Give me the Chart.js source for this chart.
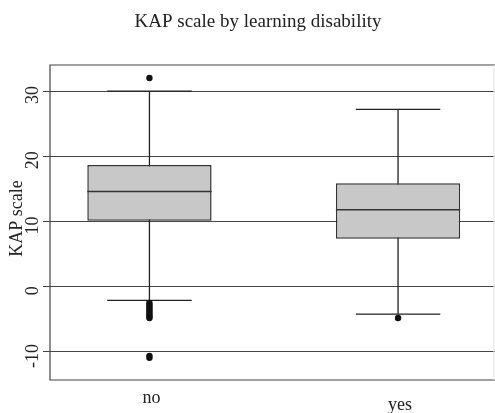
<!DOCTYPE html>
<html>
<head>
<meta charset="utf-8">
<script src="https://cdn.jsdelivr.net/npm/chart.js@4/dist/chart.umd.min.js"></script>
<style>
  body { margin: 0; background: #fff; overflow: hidden; }
  #wrap { width: 495px; height: 413px; }
</style>
</head>
<body>
<div id="wrap"><canvas id="kapChart"></canvas></div>
<script>
// Box plot summary
const categories = ['no', 'yes'];
const q1 = [10.1, 7.35];
const median = [14.6, 11.8];
const q3 = [18.65, 15.85];
const whiskerLow = [-2.1, -4.2];
const whiskerHigh = [30, 27.2];
const outliersNo = [32, -2.5, -2.8, -3.1, -3.4, -3.7, -4.0, -4.3, -4.6, -4.8, -10.6, -10.9];
const outliersYes = [-4.8];
const yTicks = [-10, 0, 10, 20, 30];

const serif = "'Liberation Serif', 'DejaVu Serif', serif";
const ink = '#222';

// whiskers, medians, frame and all the text
const boxPlotExtras = {
    id: 'boxPlotExtras',
    beforeDatasetsDraw(chart) {
        const { ctx, scales: { x, y } } = chart;
        const capHalf = 0.17;
        ctx.save();
        ctx.strokeStyle = ink;
        ctx.lineWidth = 1.3;
        categories.forEach((c, i) => {
            const cx = x.getPixelForValue(i + 1);
            const left = x.getPixelForValue(i + 1 - capHalf);
            const right = x.getPixelForValue(i + 1 + capHalf);
            ctx.beginPath();
            ctx.moveTo(cx, y.getPixelForValue(whiskerHigh[i]));
            ctx.lineTo(cx, y.getPixelForValue(whiskerLow[i]));
            ctx.moveTo(left, y.getPixelForValue(whiskerHigh[i]));
            ctx.lineTo(right, y.getPixelForValue(whiskerHigh[i]));
            ctx.moveTo(left, y.getPixelForValue(whiskerLow[i]));
            ctx.lineTo(right, y.getPixelForValue(whiskerLow[i]));
            ctx.stroke();
        });
        ctx.restore();
    },
    afterDatasetsDraw(chart) {
        const { ctx, chartArea: a, scales: { x, y } } = chart;
        const boxes = chart.getDatasetMeta(0).data;
        ctx.save();
        // medians
        ctx.strokeStyle = '#333';
        ctx.lineWidth = 1.5;
        boxes.forEach((bar, i) => {
            const my = y.getPixelForValue(median[i]);
            ctx.beginPath();
            ctx.moveTo(bar.x - bar.width / 2, my);
            ctx.lineTo(bar.x + bar.width / 2, my);
            ctx.stroke();
        });
        // frame: right edge sits on the page edge and is barely visible
        ctx.strokeStyle = '#444';
        ctx.lineWidth = 1.2;
        ctx.beginPath();
        ctx.moveTo(a.right, a.top);
        ctx.lineTo(a.left, a.top);
        ctx.lineTo(a.left, a.bottom);
        ctx.lineTo(a.right, a.bottom);
        ctx.stroke();
        ctx.strokeStyle = '#e4e4e4';
        ctx.beginPath();
        ctx.moveTo(a.right - 1, a.top);
        ctx.lineTo(a.right - 1, a.bottom);
        ctx.stroke();

        ctx.fillStyle = ink;
        ctx.textAlign = 'center';
        // title
        ctx.font = '19px ' + serif;
        ctx.textBaseline = 'alphabetic';
        ctx.fillText('KAP scale by learning disability', 258, 27);
        // category labels
        ctx.font = '18px ' + serif;
        const drop = [0, 7];
        categories.forEach((c, i) => {
            ctx.fillText(c, x.getPixelForValue(i + 1) + 2, 403 + drop[i]);
        });
        // y tick labels and axis title, rotated
        ctx.textBaseline = 'middle';
        yTicks.forEach(v => {
            ctx.save();
            ctx.translate(33, y.getPixelForValue(v) + 4);
            ctx.rotate(-Math.PI / 2);
            ctx.fillText(String(v), 0, 0);
            ctx.restore();
        });
        ctx.save();
        ctx.translate(17, (a.top + a.bottom) / 2 - 4);
        ctx.rotate(-Math.PI / 2);
        ctx.fillText('KAP scale', 0, 0);
        ctx.restore();
        ctx.restore();
    }
};

const outlierPoints = [];
outliersNo.forEach(v => outlierPoints.push({ x: 1, y: v }));
outliersYes.forEach(v => outlierPoints.push({ x: 2, y: v }));

const kapCtx = document.getElementById('kapChart').getContext('2d');
new Chart(kapCtx, {
    type: 'bar',
    data: {
        datasets: [{
            label: 'IQR',
            data: categories.map((c, i) => ({ x: i + 1, y: [q1[i], q3[i]] })),
            backgroundColor: '#c8c8c8',
            borderColor: '#333',
            borderWidth: 1.5,
            borderSkipped: false,
            barPercentage: 0.5,
            categoryPercentage: 1
        }, {
            type: 'scatter',
            label: 'Outliers',
            data: outlierPoints,
            pointRadius: 3.2,
            pointBackgroundColor: '#111',
            pointBorderWidth: 0
        }]
    },
    options: {
        responsive: true,
        maintainAspectRatio: false,
        animation: false,
        layout: { autoPadding: false, padding: { top: 65, right: 0 } },
        plugins: {
            legend: { display: false },
            tooltip: { enabled: false }
        },
        scales: {
            x: {
                type: 'linear',
                min: 0.6,
                max: 2.39,
                offset: false,
                grid: { display: false, offset: false },
                border: { display: false },
                ticks: { display: false },
                afterBuildTicks: s => { s.ticks = categories.map((c, i) => ({ value: i + 1 })); },
                afterFit: s => { s.height = 33; }
            },
            y: {
                type: 'linear',
                min: -14.3,
                max: 34,
                border: { display: false },
                grid: { color: '#444', lineWidth: 1, drawTicks: true, tickLength: 7 },
                ticks: { display: false },
                afterBuildTicks: s => { s.ticks = yTicks.map(v => ({ value: v })); },
                afterFit: s => { s.width = 50; }
            }
        }
    },
    plugins: [boxPlotExtras]
});
</script>
</body>
</html>
